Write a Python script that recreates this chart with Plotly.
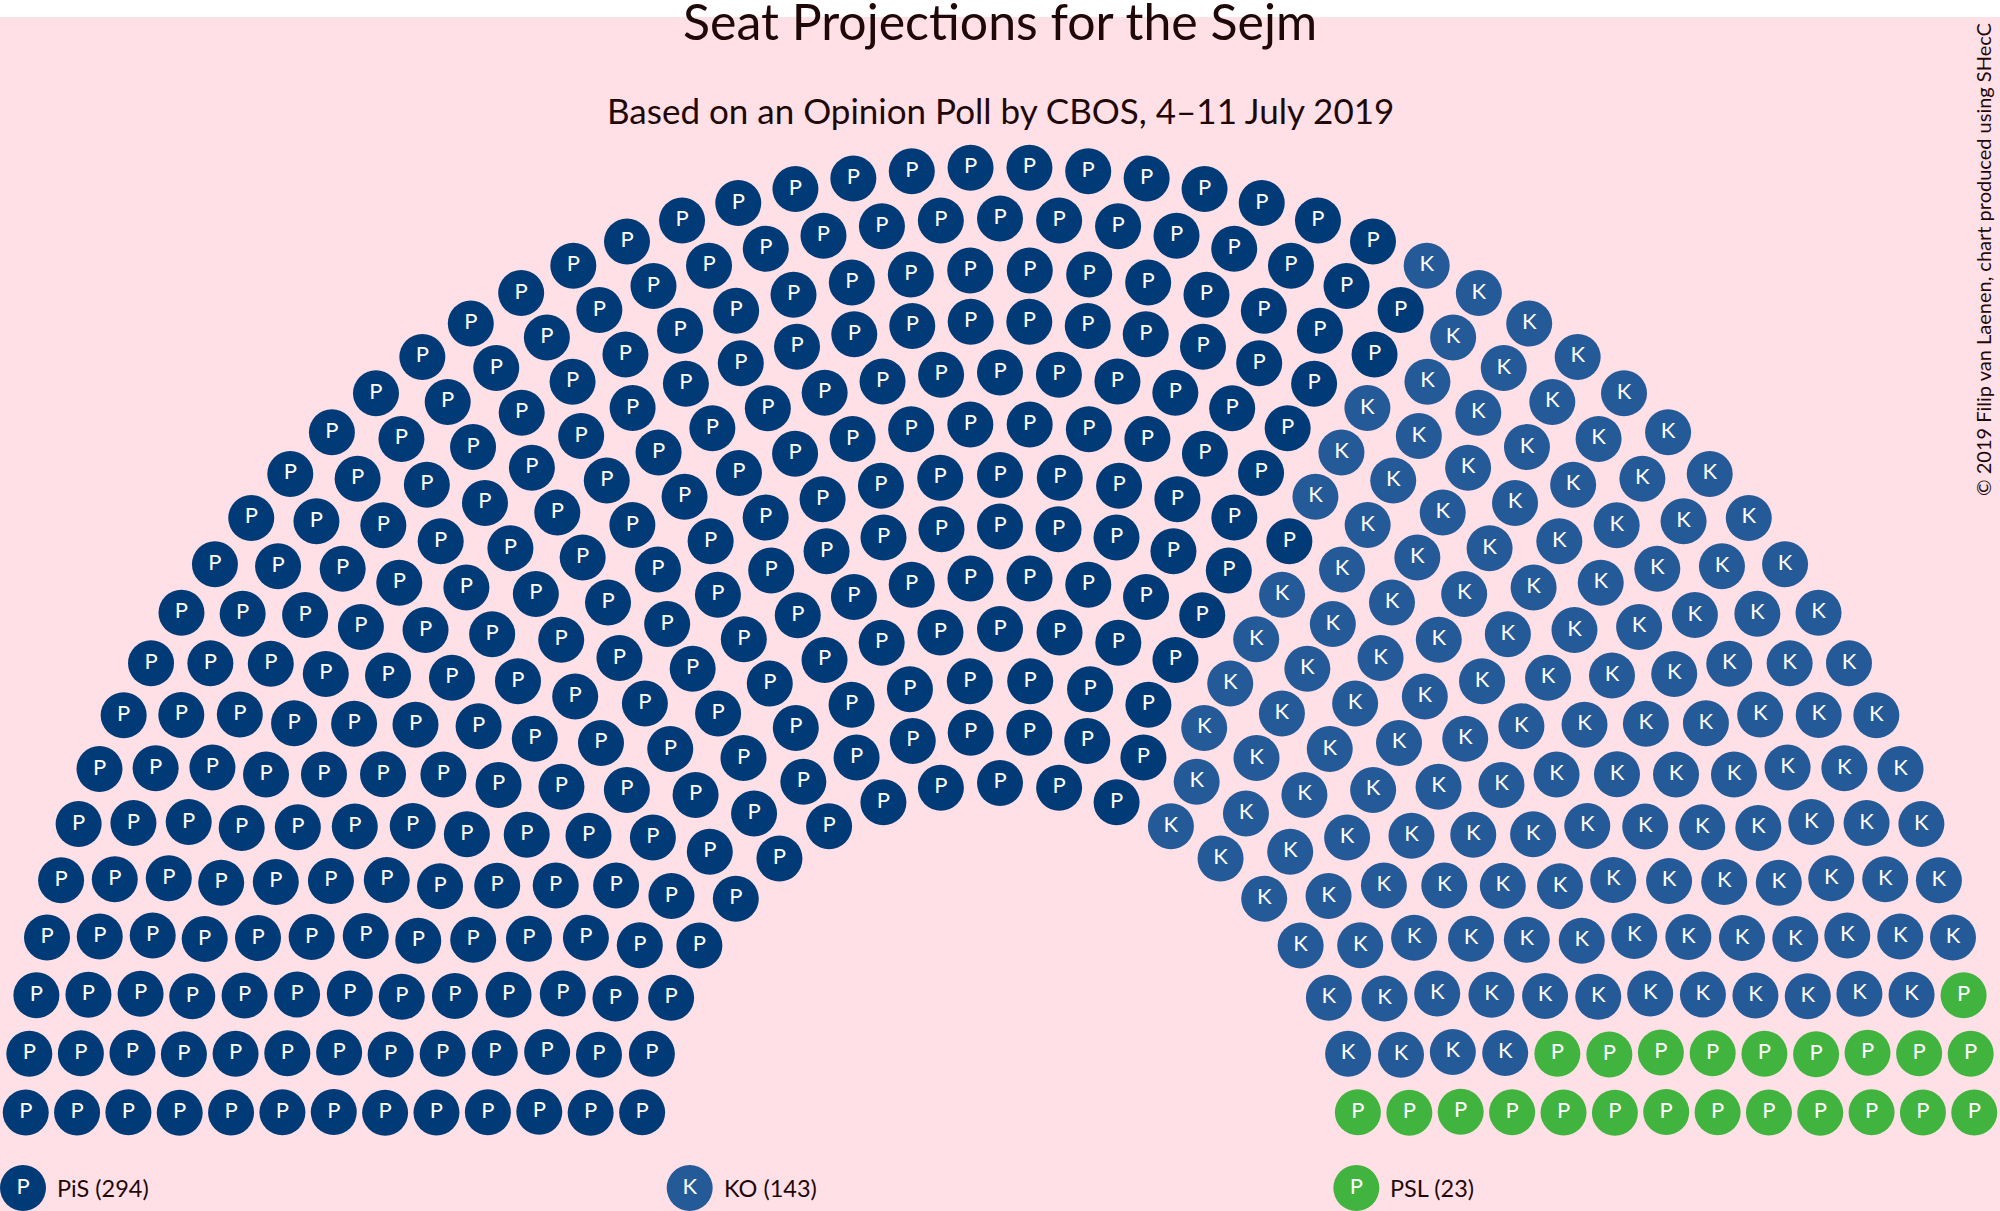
import math
import plotly.graph_objects as go

# ---- data ----
parties = ["PiS", "KO", "PSL"]
seats = [294, 143, 23]
letters = ["P", "K", "P"]
colors = ["#003B77", "#255A99", "#40B43F"]

title_text = "Seat Projections for the Sejm"
subtitle_text = "Based on an Opinion Poll by CBOS, 4–11 July 2019"
credit_text = "© 2019 Filip van Laenen, chart produced using SHecC"

# ---- layout parameters (hemicycle geometry) ----
W, H = 2000, 1211
N_ROWS = 13
INNER_UNITS = 7
ROW_GAP = 51.3
CX, CY = 1000.0, 1142.0
SEAT_D = 46
BG = "#FFE0E6"
TXT = "#1F0808"
FONT = "Lato"

total = sum(seats)
radii_units = [INNER_UNITS + i for i in range(N_ROWS)]
su = sum(radii_units)
quotas = [total * r / su for r in radii_units]
counts = [int(math.floor(q)) for q in quotas]
rem = total - sum(counts)
order = sorted(range(N_ROWS), key=lambda i: quotas[i] - counts[i], reverse=True)
for i in order[:rem]:
    counts[i] += 1

allseats = []
for i, n in enumerate(counts):
    R = radii_units[i] * ROW_GAP
    for k in range(n):
        ang = math.pi - (k + 0.5) * math.pi / n
        allseats.append((ang, R, CX + R * math.cos(ang), CY - R * math.sin(ang)))
allseats.sort(key=lambda s: (-s[0], s[1]))

fig = go.Figure()
idx = 0
for p, n, letter, col in zip(parties, seats, letters, colors):
    chunk = allseats[idx: idx + n]
    idx += n
    fig.add_trace(go.Scatter(
        x=[s[2] for s in chunk], y=[s[3] for s in chunk],
        mode="markers+text", text=[letter] * n, textposition="middle center",
        textfont=dict(family=FONT, size=22, color="white"),
        marker=dict(size=SEAT_D, color=col, line=dict(width=0)),
        cliponaxis=False, showlegend=False, hoverinfo="skip", name=p))

# legend row
leg_x = [W * j / 3 + SEAT_D / 2 for j in range(len(parties))]
leg_y = 1188
fig.add_trace(go.Scatter(
    x=leg_x, y=[leg_y] * len(parties), mode="markers+text", text=letters,
    textposition="middle center",
    textfont=dict(family=FONT, size=22, color="white"),
    marker=dict(size=SEAT_D, color=colors, line=dict(width=0)),
    cliponaxis=False, showlegend=False, hoverinfo="skip"))

annotations = []
for x, p, n in zip(leg_x, parties, seats):
    annotations.append(dict(x=x + SEAT_D / 2 + 9, y=leg_y, xref="x", yref="y",
                            text=f"{p} ({n})", showarrow=False, xanchor="left",
                            yanchor="middle", font=dict(family=FONT, size=23.5, color=TXT)))
annotations.append(dict(x=W / 2, y=21, xref="x", yref="y", text=title_text,
                        showarrow=False, xanchor="center", yanchor="middle",
                        font=dict(family=FONT, size=50, color=TXT)))
annotations.append(dict(x=W / 2, y=110, xref="x", yref="y", text=subtitle_text,
                        showarrow=False, xanchor="center", yanchor="middle",
                        font=dict(family=FONT, size=35, color=TXT)))
annotations.append(dict(x=1983, y=260, xref="x", yref="y", text=credit_text,
                        showarrow=False, textangle=-90, xanchor="center", yanchor="middle",
                        font=dict(family=FONT, size=20, color=TXT)))

fig.update_layout(
    width=W, height=H, margin=dict(l=0, r=0, t=0, b=0),
    paper_bgcolor="white", plot_bgcolor="white",
    xaxis=dict(range=[0, W], visible=False, fixedrange=True),
    yaxis=dict(range=[H, 0], visible=False, fixedrange=True),
    shapes=[dict(type="rect", xref="x", yref="y", x0=0, x1=W, y0=17, y1=H,
                 fillcolor=BG, line=dict(width=0), layer="below")],
    annotations=annotations,
)
fig.write_html("out.html")
